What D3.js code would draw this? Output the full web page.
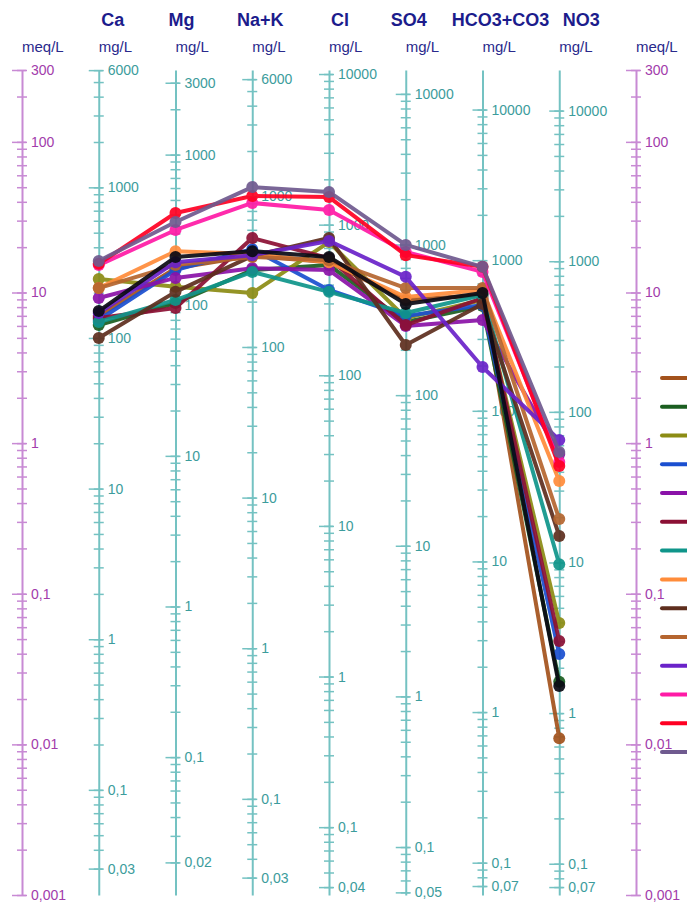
<!DOCTYPE html>
<html>
<head>
<meta charset="utf-8">
<script src="https://cdn.jsdelivr.net/npm/d3@7"></script>
<style>
  body { margin: 0; background: #fff; }
  svg { font-family: "Liberation Sans", Arial, sans-serif; }
</style>
</head>
<body>
<div id="chart"></div>
<script>
// ions and their equivalent weights (mg per meq)
const ions = ["Ca", "Mg", "Na+K", "Cl", "SO4", "HCO3+CO3", "NO3"];
const eqWeights = [20.04, 12.15, 23.0, 35.45, 48.03, 61.02, 62.0];

// tick labels
const meqLabels = [300, 100, 10, 1, 0.1, 0.01, 0.001];
const topLabels = [6000, 3000, 6000, 10000, 10000, 10000, 10000];
const bottomLabels = [0.03, 0.02, 0.03, 0.04, 0.05, 0.07, 0.07];

// colours of samples (legend order)
const sampleColors = [
  "#a3521c", "#1b5e20", "#8c8c14", "#1a4fd0", "#8a12a8",
  "#8b1034", "#0f958a", "#ff8c3a", "#5e2e1e", "#b5652f",
  "#6a22c9", "#ff1aa6", "#ff0022", "#6f5a8f", "#0a0a14"
];

// meq/L per sample: Ca, Mg, Na+K, Cl, SO4, HCO3+CO3, NO3
const s01 = [6.98, 14.5, 17.5, 15.9, 8.91, 9.62, 0.011];
const s02 = [6.08, 8.51, 14.1, 15.2, 6.37, 8.13, 0.026];
const s03 = [12.3, 10.9, 9.93, 21.6, 6.77, 8.91, 0.064];
const s04 = [6.57, 14.1, 19.4, 10.4, 6.98, 8.26, 0.0398];
const s05 = [9.19, 12.5, 14.5, 14.1, 6.0, 6.57, 0.847];
const s06 = [6.77, 7.89, 23.0, 16.9, 6.08, 9.19, 0.0485];
const s07 = [6.37, 8.91, 13.7, 10.1, 7.31, 9.62, 0.157];
const s08 = [10.7, 18.8, 18.0, 15.9, 9.33, 10.4, 0.561];
const s09 = [4.99, 10.1, 17.5, 23.0, 4.48, 8.39, 0.242];
const s10 = [10.7, 15.2, 17.2, 16.4, 10.7, 10.7, 0.313];
const s11 = [7.31, 15.9, 17.7, 22.0, 12.7, 3.2, 1.05];
const s12 = [15.2, 26.0, 39.3, 35.3, 18.6, 13.7, 0.75];
const s13 = [15.5, 33.7, 43.7, 43.0, 17.7, 14.8, 0.705];
const s14 = [16.2, 29.4, 50.1, 46.5, 20.7, 14.8, 0.873];
const s15 = [7.53, 17.2, 18.8, 17.2, 8.39, 9.93, 0.0244];
const samples = [s01, s02, s03, s04, s05, s06, s07, s08, s09, s10, s11, s12, s13, s14, s15];
const legendCount = 14;

const width = 687;
const height = 906;
const yTop = 70, yBottom = 895;

const svg = d3.select("#chart")
  .append("svg")
  .attr("width", width)
  .attr("height", height);

const axisKeys = ["meqL", ...ions, "meqR"];
const x = d3.scalePoint().domain(axisKeys).range([22, 636]);
const y = d3.scaleLog().domain([0.001, 300]).range([yBottom, yTop]);

const fmt = v => String(+v.toPrecision(6)).replace(".", ",");

// every d*10^k inside [lo, hi]
function logTicks(lo, hi) {
  const out = [];
  for (let k = Math.floor(Math.log10(lo)); k <= Math.ceil(Math.log10(hi)); k++) {
    for (let d = 1; d <= 9; d++) {
      const v = +(d * Math.pow(10, k)).toPrecision(6);
      if (v >= lo * 0.9999 && v <= hi * 1.0001) out.push(v);
    }
  }
  return out;
}

function drawAxis(xpos, scale, majors, lineColor, textColor) {
  const [lo, hi] = scale.domain();
  const g = svg.append("g").attr("transform", `translate(${xpos},0)`);

  // minor ticks
  g.append("g")
    .call(d3.axisRight(scale).tickValues(logTicks(lo, hi)).tickSize(5).tickSizeOuter(0).tickFormat(""))
    .call(a => a.select(".domain").attr("stroke", lineColor).attr("stroke-width", 2))
    .call(a => a.selectAll(".tick line").attr("x1", -5).attr("stroke", lineColor).attr("stroke-width", 1.5));

  // labelled ticks
  g.append("g")
    .call(d3.axisRight(scale).tickValues(majors).tickSize(4).tickPadding(5).tickFormat(fmt))
    .call(a => a.select(".domain").remove())
    .call(a => a.selectAll(".tick line").attr("x1", -10).attr("stroke", lineColor).attr("stroke-width", 1.5))
    .call(a => a.selectAll(".tick text").attr("fill", textColor).style("font-size", "14px"));
}

// meq/L axes on both sides
["meqL", "meqR"].forEach(k => {
  drawAxis(x(k), y, meqLabels, "#c88ad4", "#a23cab");
  svg.append("text")
    .attr("x", x(k)).attr("y", 52)
    .attr("fill", "#2a2a8c").style("font-size", "15px")
    .text("meq/L");
});

// one mg/L axis per ion
const headerShift = [14, 6, 8, 11, 3, 18, 22];
ions.forEach((ion, i) => {
  const eq = eqWeights[i];
  const sc = d3.scaleLog().domain([0.001 * eq, 300 * eq]).range([yBottom, yTop]);
  const [lo, hi] = sc.domain();
  const decades = logTicks(lo, hi).filter(v => Math.abs(Math.log10(v) - Math.round(Math.log10(v))) < 1e-9);
  const majors = Array.from(new Set([topLabels[i], ...decades, bottomLabels[i]]));
  drawAxis(x(ion), sc, majors, "#74c2c2", "#3c9c9c");

  svg.append("text")
    .attr("x", x(ion) + headerShift[i]).attr("y", 26)
    .attr("text-anchor", "middle")
    .attr("fill", "#1c1c8c").style("font-size", "18px").style("font-weight", "bold")
    .text(ion);
  svg.append("text")
    .attr("x", x(ion)).attr("y", 52)
    .attr("fill", "#2a2a8c").style("font-size", "15px")
    .text("mg/L");
});

// sample lines
const line = d3.line()
  .x((d, i) => x(ions[i]))
  .y(d => y(d));

const sg = svg.append("g")
  .selectAll("g")
  .data(samples)
  .join("g")
  .attr("opacity", 0.92);

sg.append("path")
  .attr("d", d => line(d))
  .attr("fill", "none")
  .attr("stroke", (d, i) => sampleColors[i])
  .attr("stroke-width", 4)
  .attr("stroke-linejoin", "round");

sg.selectAll("circle")
  .data((d, si) => d.map((v, i) => ({ v, i, si })))
  .join("circle")
  .attr("cx", d => x(ions[d.i]))
  .attr("cy", d => y(d.v))
  .attr("r", 6)
  .attr("fill", d => sampleColors[d.si]);

// legend (labels fall outside the picture)
const ly = d3.scalePoint().domain(d3.range(legendCount)).range([378, 752]);
svg.append("g")
  .selectAll("line")
  .data(d3.range(legendCount))
  .join("line")
  .attr("x1", 662).attr("x2", 700)
  .attr("y1", d => ly(d)).attr("y2", d => ly(d))
  .attr("stroke", d => sampleColors[d])
  .attr("stroke-width", 4)
  .attr("stroke-linecap", "round");
</script>
</body>
</html>
